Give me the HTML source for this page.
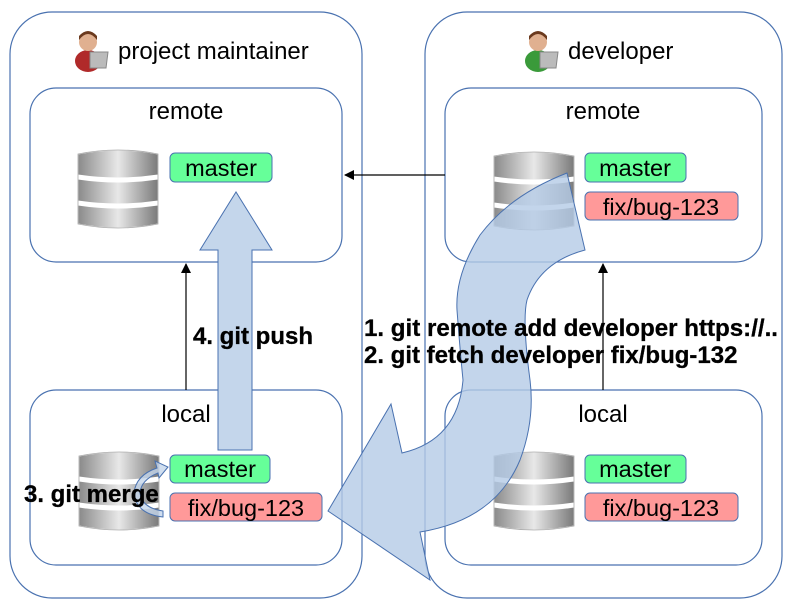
<!DOCTYPE html>
<html><head><meta charset="utf-8"><style>
body{margin:0;background:#fff}
svg{display:block;font-family:"Liberation Sans",sans-serif}
</style></head><body>
<svg width="790" height="608" viewBox="0 0 790 608">
<defs>
<linearGradient id="g" x1="0" x2="1">
<stop offset="0" stop-color="#8a8a8a"/><stop offset="0.5" stop-color="#e8e8e8"/><stop offset="1" stop-color="#7a7a7a"/>
</linearGradient>
<g id="db">
<path d="M0 6 Q40 -2 80 6 L80 27 Q40 33 0 27Z" fill="url(#g)" stroke="#fff" stroke-width="1"/>
<path d="M0 31 Q40 37 80 31 L80 53 Q40 59 0 53Z" fill="url(#g)" stroke="#fff" stroke-width="1"/>
<path d="M0 57 Q40 63 80 57 L80 76 Q40 84 0 76Z" fill="url(#g)" stroke="#fff" stroke-width="1"/>
<path d="M0 6 Q40 -2 80 6 L80 76 Q40 84 0 76Z" fill="none" stroke="#aaa" stroke-width="0.8"/>
</g>
<marker id="ah" markerWidth="10" markerHeight="10" refX="9" refY="5" orient="auto" markerUnits="userSpaceOnUse"><path d="M0 0L10 5L0 10Z" fill="#000"/></marker>
</defs>
<g fill="none" stroke="#4a72b0" stroke-width="1.2">
<rect x="10" y="12" width="352" height="586" rx="42"/>
<rect x="425" y="12" width="357" height="586" rx="42"/>
<rect x="30" y="88" width="312" height="174" rx="26"/>
<rect x="30" y="390" width="312" height="175" rx="26"/>
<rect x="445" y="88" width="317" height="174" rx="26"/>
<rect x="445" y="390" width="317" height="175" rx="26"/>
</g>
<g font-size="24" fill="#000">
<text x="118" y="59">project maintainer</text>
<text x="568" y="59">developer</text>
<text x="186" y="119" text-anchor="middle">remote</text>
<text x="603" y="119" text-anchor="middle">remote</text>
<text x="186" y="422" text-anchor="middle">local</text>
<text x="603" y="422" text-anchor="middle">local</text>
</g>
<g transform="translate(72,30)"><ellipse cx="16" cy="31" rx="13" ry="11" fill="#b02a2a"/><circle cx="16" cy="12" r="9" fill="#e0b090"/><path d="M7 10 Q16 -2 25 10 L25 6 Q16 -4 7 6Z" fill="#6b3a1e"/><path d="M18 22 L36 22 L34 38 L18 38Z" fill="#bbb" stroke="#888"/></g>
<g transform="translate(522,30)"><ellipse cx="16" cy="31" rx="13" ry="11" fill="#3a9a3a"/><circle cx="16" cy="12" r="9" fill="#e0b090"/><path d="M7 10 Q16 -2 25 10 L25 6 Q16 -4 7 6Z" fill="#6b3a1e"/><path d="M18 22 L36 22 L34 38 L18 38Z" fill="#bbb" stroke="#888"/></g>
<use href="#db" x="78" y="148"/>
<use href="#db" x="494" y="150"/>
<use href="#db" x="79" y="450"/>
<use href="#db" x="494" y="450"/>
<g stroke="#4a72b0" stroke-width="1">
<rect x="170" y="153" width="102" height="29" rx="5" fill="#66ff99"/>
<rect x="585" y="153" width="101" height="29" rx="5" fill="#66ff99"/>
<rect x="585" y="192" width="153" height="28" rx="5" fill="#ff9999"/>
<rect x="170" y="455" width="100" height="28" rx="5" fill="#66ff99"/>
<rect x="170" y="493" width="152" height="28" rx="5" fill="#ff9999"/>
<rect x="585" y="455" width="101" height="28" rx="5" fill="#66ff99"/>
<rect x="585" y="493" width="153" height="28" rx="5" fill="#ff9999"/>
</g>
<g font-size="23.5" text-anchor="middle" fill="#000">
<text x="221" y="176">master</text>
<text x="635" y="176">master</text>
<text x="661" y="215">fix/bug-123</text>
<text x="220" y="477">master</text>
<text x="246" y="516">fix/bug-123</text>
<text x="635" y="477">master</text>
<text x="661" y="516">fix/bug-123</text>
</g>
<g stroke="#000" stroke-width="1.2" fill="none">
<line x1="445" y1="175" x2="345" y2="175" marker-end="url(#ah)"/>
<line x1="186" y1="390" x2="186" y2="264" marker-end="url(#ah)"/>
<line x1="603" y1="390" x2="603" y2="264" marker-end="url(#ah)"/>
</g>
<path d="M218 450 L218 250 L200 250 L236 192 L272 250 L252 250 L252 450Z" fill="#c4d6eb" stroke="#4a72b0" stroke-width="1"/>
<path d="M567 173 Q510 195 480 235 Q455 275 457 310 Q460 350 463 380 Q458 440 402 453 L391 404 L328 511 L430 580 L420 532 Q495 520 520 460 Q535 420 530 380 Q522 320 527 300 Q540 262 585 250Z" fill="#b4cbe6" fill-opacity="0.8" stroke="#4a72b0" stroke-width="1"/>
<path d="M163 517 Q136 514 134 493 Q136 475 157 468 L155 461 L168 467 L159 478 L158 473 Q141 480 140 493 Q142 508 163 511Z" fill="#c4d6eb" fill-opacity="0.8" stroke="#4a72b0" stroke-width="1"/>
<g font-size="24" font-weight="bold" fill="#000" stroke="#000" stroke-width="0.3">
<text x="193" y="344" textLength="120" lengthAdjust="spacingAndGlyphs">4. git push</text>
<text x="364" y="336" textLength="414" lengthAdjust="spacingAndGlyphs">1. git remote add developer https://..</text>
<text x="364" y="363">2. git fetch developer fix/bug-132</text>
<text x="24" y="502">3. git merge</text>
</g>
</svg>
</body></html>
